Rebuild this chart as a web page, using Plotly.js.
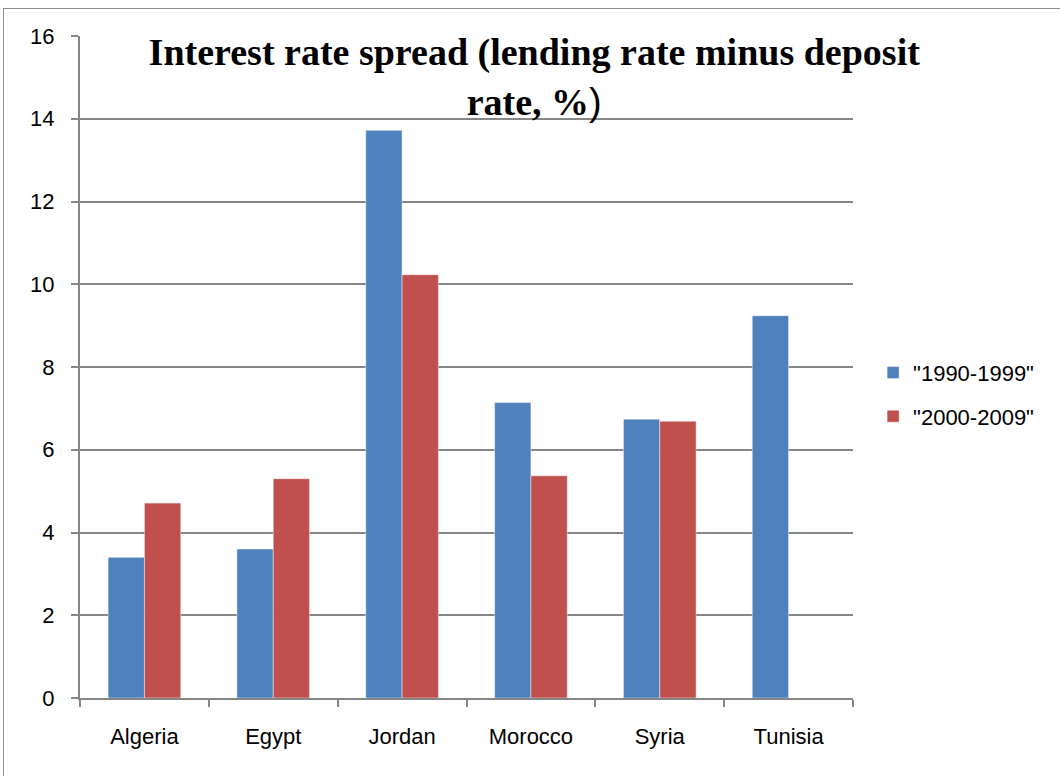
<!DOCTYPE html>
<html>
<head>
<meta charset="utf-8">
<script src="https://cdn.plot.ly/plotly-3.0.1.min.js"></script>
<style>
  html, body { margin: 0; padding: 0; background: #ffffff; }
  #wrap { position: relative; width: 1060px; height: 776px; overflow: hidden; }
  #chart { position: absolute; left: 0; top: 0; width: 1060px; height: 776px; }
  #frame { position: absolute; left: 3px; top: 8px; width: 1100px; height: 800px;
           border: 1px solid #8e8e8e; pointer-events: none; }
</style>
</head>
<body>
<div id="wrap">
  <div id="chart"></div>
  <div id="frame"></div>
</div>
<script>
// Countries on the category axis
const countries = ["Algeria", "Egypt", "Jordan", "Morocco", "Syria", "Tunisia"];

// Average interest rate spread per decade (%)
const spread1990s = [3.40, 3.60, 13.72, 7.14, 6.74, 9.24];
const spread2000s = [4.71, 5.30, 10.23, 5.37, 6.69, null];

const seriesNames = ['"1990-1999"', '"2000-2009"'];
const yTicks = [0, 2, 4, 6, 8, 10, 12, 14, 16];

const gridGray = "#868686";
const labelFont = { family: "Liberation Sans, Arial, sans-serif", size: 22, color: "#000000" };

const traces = [
  {
    type: "bar",
    name: seriesNames[0],
    legendgroup: "a",
    x: countries,
    y: spread1990s,
    marker: { color: "#4F81BD", line: { color: "rgba(255,255,255,0.45)", width: 1 } },
    hoverinfo: "x+y"
  },
  {
    type: "bar",
    name: seriesNames[1],
    legendgroup: "b",
    x: countries,
    y: spread2000s,
    marker: { color: "#C0504D", line: { color: "rgba(255,255,255,0.45)", width: 1 } },
    hoverinfo: "x+y"
  }
];

const layout = {
  width: 1060,
  height: 776,
  margin: { l: 80, r: 207, t: 36, b: 78 },
  paper_bgcolor: "rgba(0,0,0,0)",
  plot_bgcolor: "#ffffff",
  barmode: "group",
  bargap: 0.436,
  bargroupgap: 0,
  title: {
    text: "Interest rate spread (lending rate minus deposit<br>rate, %<span style=\"font-family:'Liberation Sans';font-weight:normal\">)</span>",
    font: { family: "Liberation Serif, Times New Roman, serif", size: 38, color: "#000000", weight: "bold" },
    xref: "container",
    x: 0.504,
    xanchor: "center",
    yref: "container",
    y: 0.916,
    yanchor: "top"
  },
  xaxis: {
    type: "category",
    tickson: "boundaries",
    ticks: "outside",
    ticklen: 7,
    tickwidth: 2,
    tickcolor: gridGray,
    showline: true,
    linecolor: gridGray,
    linewidth: 2,
    showgrid: false,
    tickfont: labelFont,
    ticklabelstandoff: 18,
    fixedrange: true
  },
  yaxis: {
    range: [0, 16],
    tickvals: yTicks,
    ticktext: yTicks.map(String),
    ticks: "outside",
    ticklen: 7,
    tickwidth: 2,
    tickcolor: gridGray,
    showline: true,
    linecolor: gridGray,
    linewidth: 2,
    showgrid: true,
    gridcolor: gridGray,
    gridwidth: 2,
    zeroline: false,
    tickfont: labelFont,
    ticklabelstandoff: 12,
    fixedrange: true
  },
  showlegend: true,
  legend: {
    x: 1.026,
    xanchor: "left",
    y: 0.458,
    yanchor: "middle",
    traceorder: "grouped",
    tracegroupgap: 12,
    font: labelFont,
    bgcolor: "rgba(0,0,0,0)",
    borderwidth: 0
  }
};

Plotly.newPlot("chart", traces, layout, { displayModeBar: false, staticPlot: true });
</script>
</body>
</html>
